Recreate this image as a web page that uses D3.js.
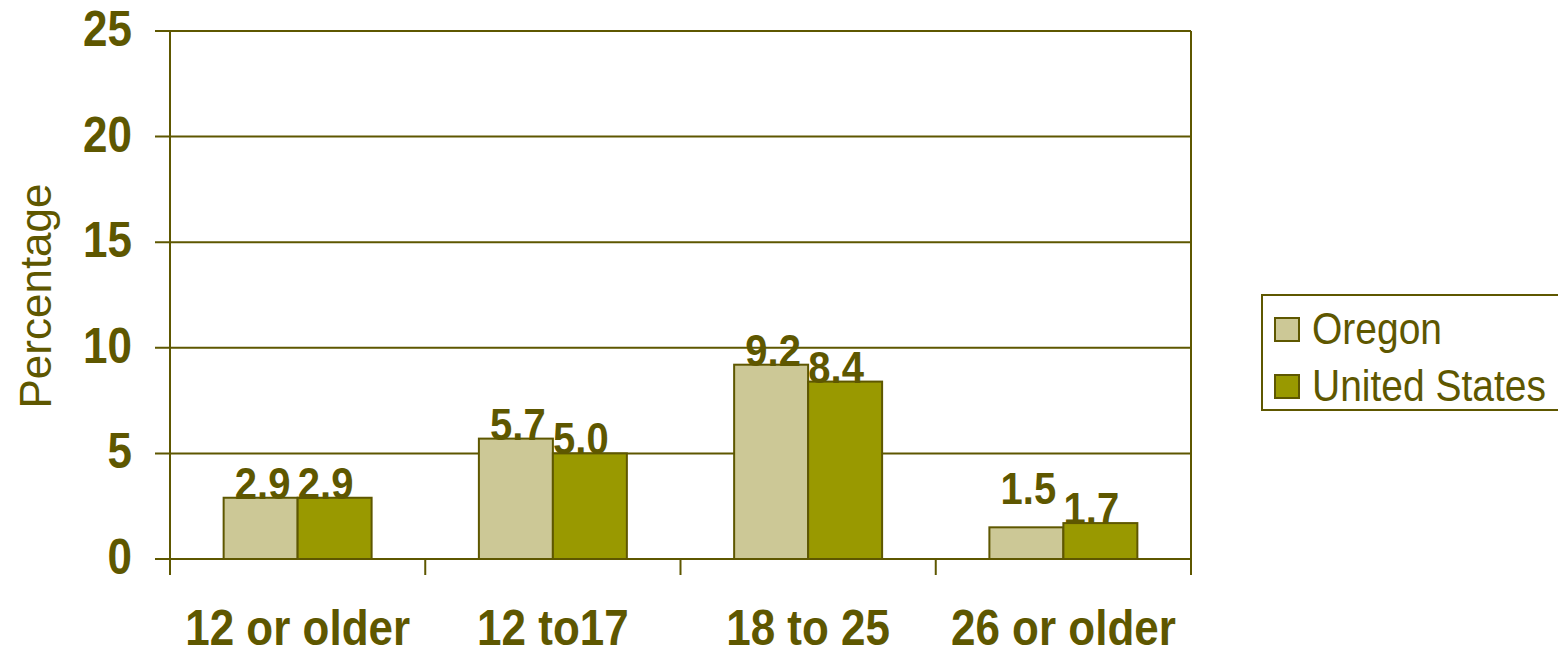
<!DOCTYPE html>
<html><head><meta charset="utf-8">
<script src="https://cdn.jsdelivr.net/npm/d3@7"></script>
<style>body{margin:0;background:#fff}svg{display:block}text{font-family:"Liberation Sans",Arial,sans-serif}</style>
</head><body>
<svg id="c" width="1558" height="651"></svg>
<script>
const categories = ["12 or older", "12 to17", "18 to 25", "26 or older"];
const seriesNames = ["Oregon", "United States"];
const oregon = [2.9, 5.7, 9.2, 1.5];
const unitedStates = [2.9, 5.0, 8.4, 1.7];
const yTicks = [0, 5, 10, 15, 20, 25];
const colors = ["#CCC896", "#999900"];
const ink = "#5E5700";
const SY = 1.12; // vertical stretch of the reference's text

const svg = d3.select("#c");
const m = {l: 170, r: 1191, t: 31, b: 559};
const x = d3.scaleBand().domain(categories).range([m.l, m.r]);
const x1 = d3.scaleBand().domain(seriesNames).range([0, x.bandwidth()]).paddingInner(0).paddingOuter(0.725);
const y = d3.scaleLinear().domain([0, 25]).range([m.b, m.t]);
const place = (px, py) => `translate(${px},${py}) scale(1,${SY})`;

// gridlines + left ticks
svg.append("g").selectAll("line").data(yTicks).join("line")
  .attr("x1", m.l - 15).attr("x2", m.r).attr("y1", d => y(d)).attr("y2", d => y(d))
  .attr("stroke", ink).attr("stroke-width", 2);
svg.append("line").attr("x1", m.l).attr("x2", m.l).attr("y1", m.t).attr("y2", m.b + 16).attr("stroke", ink).attr("stroke-width", 2);
svg.append("line").attr("x1", m.r).attr("x2", m.r).attr("y1", m.t).attr("y2", m.b + 16).attr("stroke", ink).attr("stroke-width", 2);
const bounds = categories.map(c => x(c)).slice(1);
svg.append("g").selectAll("line").data(bounds).join("line")
  .attr("x1", d => d).attr("x2", d => d).attr("y1", m.b).attr("y2", m.b + 16)
  .attr("stroke", ink).attr("stroke-width", 2);

// y tick labels
svg.append("g").selectAll("text").data(yTicks).join("text")
  .attr("transform", d => place(132, y(d) + 15))
  .attr("text-anchor", "end")
  .attr("font-size", 44).attr("font-weight", "bold").attr("fill", ink).text(d => d);

// y title
svg.append("text").attr("transform", `translate(51,${(182+410)/2}) rotate(-90)`)
  .attr("text-anchor", "middle").attr("font-size", 44).attr("fill", ink).text("Percentage");

// bars
const data = categories.map((c, i) => ({c, vals: [oregon[i], unitedStates[i]]}));
const labelLift = {"26 or older|Oregon": 24};
const groups = svg.append("g").selectAll("g").data(data).join("g")
  .attr("transform", d => `translate(${x(d.c)},0)`);
const items = d => d.vals.map((v, j) => ({v, s: seriesNames[j], j, c: d.c}));
groups.selectAll("rect").data(items).join("rect")
  .attr("x", d => x1(d.s)).attr("width", x1.bandwidth())
  .attr("y", d => y(d.v)).attr("height", d => y(0) - y(d.v))
  .attr("fill", d => colors[d.j]).attr("stroke", ink).attr("stroke-width", 2);
groups.selectAll("text").data(items).join("text")
  .attr("transform", d => place(x1(d.s) + x1.bandwidth() / 2 + (d.j === 0 ? 2 : -9),
                                y(d.v) + 1 - (labelLift[d.c + "|" + d.s] || 0)))
  .attr("text-anchor", "middle").attr("font-size", 40).attr("font-weight", "bold").attr("fill", ink)
  .text(d => d3.format(".1f")(d.v));

// category labels
svg.append("g").selectAll("text").data(categories).join("text")
  .attr("transform", d => place(x(d) + x.bandwidth() / 2, 645))
  .attr("text-anchor", "middle")
  .attr("font-size", 44).attr("font-weight", "bold").attr("fill", ink).text(d => d);

// legend
const lg = svg.append("g");
lg.append("rect").attr("x", 1262).attr("y", 295).attr("width", 310).attr("height", 115)
  .attr("fill", "#fff").attr("stroke", ink).attr("stroke-width", 2);
seriesNames.forEach((s, i) => {
  const cy = 330 + i * 57;
  lg.append("rect").attr("x", 1275).attr("y", cy - 12).attr("width", 24).attr("height", 23)
    .attr("fill", colors[i]).attr("stroke", ink).attr("stroke-width", 2);
  lg.append("text").attr("transform", place(1312, cy + 14))
    .attr("font-size", 39).attr("fill", ink).text(s);
});
</script>
</body></html>
